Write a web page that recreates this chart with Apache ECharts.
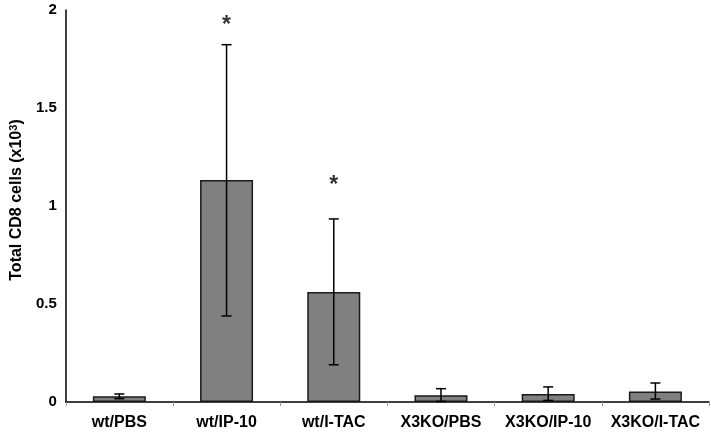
<!DOCTYPE html>
<html>
<head>
<meta charset="utf-8">
<script src="https://cdn.jsdelivr.net/npm/echarts@6/dist/echarts.min.js"></script>
<style>html,body{margin:0;padding:0;background:#fff;}#c{width:711px;height:432px;}</style>
</head>
<body>
<div id="c"></div>
<script>
var categories = ['wt/PBS', 'wt/IP-10', 'wt/I-TAC', 'X3KO/PBS', 'X3KO/IP-10', 'X3KO/I-TAC'];
var means = [0.029, 1.133, 0.561, 0.034, 0.041, 0.054];
var errLow = [0.017, 0.439, 0.19, 0.003, 0.008, 0.015];
var errHigh = [0.041, 1.823, 0.934, 0.068, 0.077, 0.097];
var stars = [null, 1.92, 1.105, null, null, null];
var yTicks = [0, 0.5, 1, 1.5, 2];

var chart = echarts.init(document.getElementById('c'), null, {renderer: 'canvas'});
var errData = categories.map(function (c, i) { return [i, errLow[i], errHigh[i]]; });
var starData = stars.map(function (v, i) { return v == null ? null : [i, v]; }).filter(function (d) { return d; });
var FONT = 'Liberation Sans, Arial';

chart.setOption({
  animation: false,
  backgroundColor: '#fff',
  grid: {left: 64, right: 2, top: 10, bottom: 30, containLabel: false},
  xAxis: {
    type: 'category',
    data: categories,
    axisLine: {lineStyle: {color: '#000', width: 1.5}},
    axisTick: {show: true, length: 4, interval: 0, lineStyle: {color: '#999', width: 1}},
    axisLabel: {interval: 0, hideOverlap: false, color: '#000', fontFamily: FONT, fontWeight: 'bold', fontSize: 16, margin: 13}
  },
  yAxis: {
    type: 'value',
    min: 0, max: 2, interval: 0.5,
    splitLine: {show: false},
    axisLine: {show: true, lineStyle: {color: '#000', width: 1.5}},
    axisTick: {show: false},
    axisLabel: {color: '#000', fontFamily: FONT, fontWeight: 'bold', fontSize: 15, margin: 9,
      formatter: function (v) { return yTicks.indexOf(v) >= 0 ? String(v) : ''; }},
    name: '{a|Total CD8 cells (x10}{s|3}{a|)}',
    nameLocation: 'middle',
    nameGap: 38,
    nameTextStyle: {
      padding: [0, 0, 0, 12],
      rich: {
        a: {fontFamily: FONT, fontWeight: 'bold', fontSize: 16, color: '#000'},
        s: {fontFamily: FONT, fontWeight: 'bold', fontSize: 11, color: '#000', verticalAlign: 'top', padding: [0, 0, 7, 0]}
      }
    }
  },
  series: [
    {
      type: 'bar',
      data: means,
      barWidth: 53,
      itemStyle: {color: '#808080', borderColor: '#1a1a1a', borderWidth: 1.5}
    },
    {
      type: 'custom',
      data: errData,
      z: 5,
      renderItem: function (params, api) {
        var x = api.value(0);
        var lo = api.coord([x, api.value(1)]);
        var hi = api.coord([x, api.value(2)]);
        var w = 5;
        var st = {stroke: '#000', lineWidth: 1.5};
        return {
          type: 'group',
          children: [
            {type: 'line', shape: {x1: lo[0], y1: lo[1], x2: hi[0], y2: hi[1]}, style: st},
            {type: 'line', shape: {x1: hi[0] - w, y1: hi[1], x2: hi[0] + w, y2: hi[1]}, style: st},
            {type: 'line', shape: {x1: lo[0] - w, y1: lo[1], x2: lo[0] + w, y2: lo[1]}, style: st}
          ]
        };
      }
    },
    {
      type: 'scatter',
      data: starData,
      symbolSize: 0,
      z: 6,
      label: {show: true, position: 'inside', formatter: '*', color: '#000',
        fontFamily: FONT, fontWeight: 'bold', fontSize: 23}
    }
  ]
});
</script>
</body>
</html>
